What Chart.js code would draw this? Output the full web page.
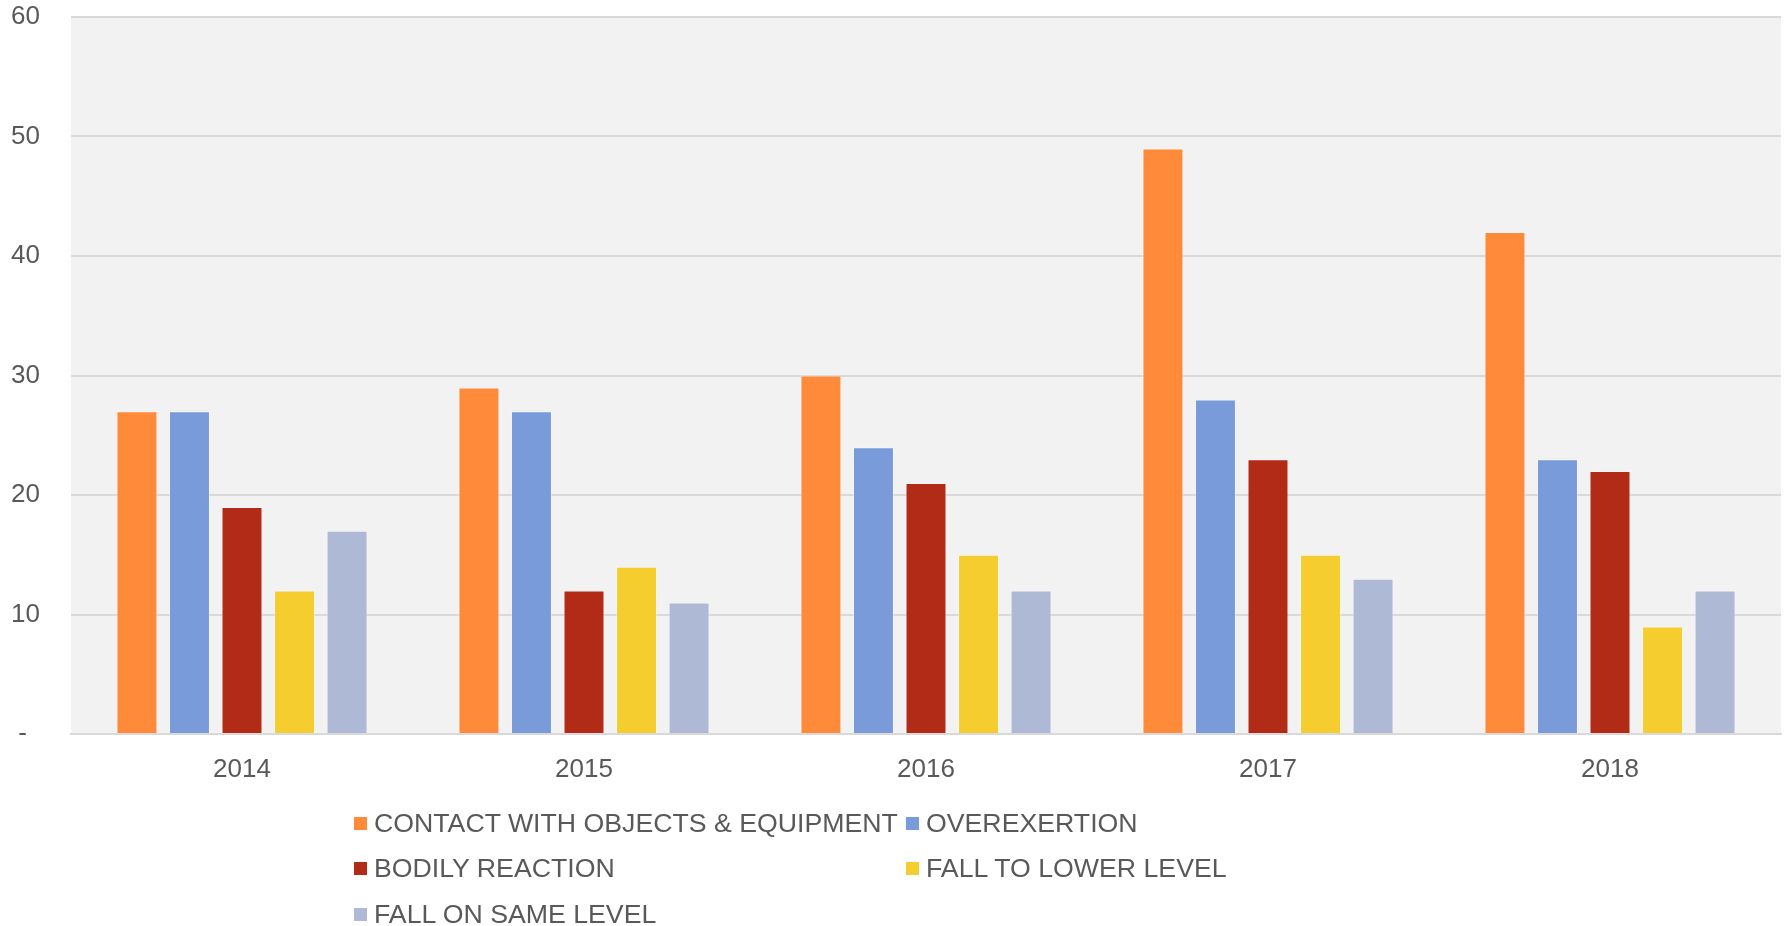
<!DOCTYPE html>
<html>
<head>
<meta charset="utf-8">
<script src="https://cdn.jsdelivr.net/npm/chart.js@4.4.1/dist/chart.umd.min.js"></script>
<style>
    body { margin: 0; background: #ffffff; }
    #wrap { position: relative; width: 1787px; height: 926px; }
    #legend { position: absolute; left: 0; top: 0; font-family: "Liberation Sans", Arial, sans-serif; font-size: 26.7px; color: #595959; }
    .item { position: absolute; white-space: nowrap; line-height: 30px; height: 30px; }
    .box { position: absolute; left: 0; top: 9px; width: 13px; height: 13px; }
    .lbl { position: absolute; left: 20px; top: 0; }
</style>
</head>
<body>
<div id="wrap">
    <canvas id="chart" width="1787" height="926"></canvas>
    <div id="legend"></div>
</div>
<script>
let years = ["2014", "2015", "2016", "2017", "2018"];
let contactWithObjects = [27, 29, 30, 49, 42];
let overexertion = [27, 27, 24, 28, 23];
let bodilyReaction = [19, 12, 21, 23, 22];
let fallToLowerLevel = [12, 14, 15, 15, 9];
let fallOnSameLevel = [17, 11, 12, 13, 12];
let yTicks = [0, 10, 20, 30, 40, 50, 60];

let seriesNames = ["CONTACT WITH OBJECTS & EQUIPMENT", "OVEREXERTION", "BODILY REACTION", "FALL TO LOWER LEVEL", "FALL ON SAME LEVEL"];
let seriesColors = ["#ff8a3a", "#7a9bd9", "#b22b17", "#f5cd2e", "#aeb9d6"];
let seriesData = [contactWithObjects, overexertion, bodilyReaction, fallToLowerLevel, fallOnSameLevel];

// grey plot background behind the bars
const plotBackground = {
    id: "plotBackground",
    beforeDraw(chart) {
        let a = chart.chartArea;
        let ctx = chart.ctx;
        ctx.save();
        ctx.fillStyle = "#f2f2f2";
        ctx.fillRect(a.left, a.top, a.right - a.left, a.bottom - a.top);
        ctx.restore();
    }
};

function makeDatasets() {
    let arr = [];
    seriesNames.forEach((name, i) => {
        arr.push({
            label: name,
            data: seriesData[i],
            backgroundColor: seriesColors[i],
            borderColor: "rgba(255,255,255,0.35)",
            borderWidth: 1,
            categoryPercentage: 0.768,
            barPercentage: 0.78
        });
    });
    return arr;
}

function createBarChart() {
    let ctx = document.getElementById("chart");
    Chart.defaults.font.family = '"Liberation Sans", Arial, sans-serif';
    Chart.defaults.font.size = 26;
    Chart.defaults.color = "#595959";

    new Chart(ctx, {
        type: "bar",
        data: {
            labels: years,
            datasets: makeDatasets()
        },
        options: {
            responsive: false,
            animation: false,
            layout: { padding: { left: 11, top: 17, right: 6, bottom: 0 } },
            plugins: {
                legend: { display: false },
                tooltip: { enabled: false }
            },
            scales: {
                x: {
                    grid: { display: false, drawTicks: false },
                    border: { color: "#d9d9d9", width: 2 },
                    ticks: { padding: 20 },
                    afterFit: scale => { scale.height = 192; }
                },
                y: {
                    min: 0,
                    max: 60,
                    afterBuildTicks: scale => { scale.ticks = yTicks.map(v => ({ value: v })); },
                    grid: { color: "#d9d9d9", lineWidth: 2, drawTicks: false },
                    border: { display: false },
                    ticks: {
                        crossAlign: "far",
                        padding: 0,
                        callback: v => v == 0 ? " -" : String(v)
                    },
                    afterFit: scale => { scale.width = 60; }
                }
            }
        },
        plugins: [plotBackground]
    });
}

function createLegend() {
    let legend = document.getElementById("legend");
    let cols = [354, 906];
    let rows = [823, 868, 914];
    seriesNames.forEach((name, i) => {
        let item = document.createElement("div");
        item.className = "item";
        item.style.left = cols[i % 2] + "px";
        item.style.top = (rows[Math.floor(i / 2)] - 15) + "px";
        let box = document.createElement("span");
        box.className = "box";
        box.style.background = seriesColors[i];
        let lbl = document.createElement("span");
        lbl.className = "lbl";
        lbl.textContent = name;
        item.appendChild(box);
        item.appendChild(lbl);
        legend.appendChild(item);
    });
}

createBarChart();
createLegend();
</script>
</body>
</html>
